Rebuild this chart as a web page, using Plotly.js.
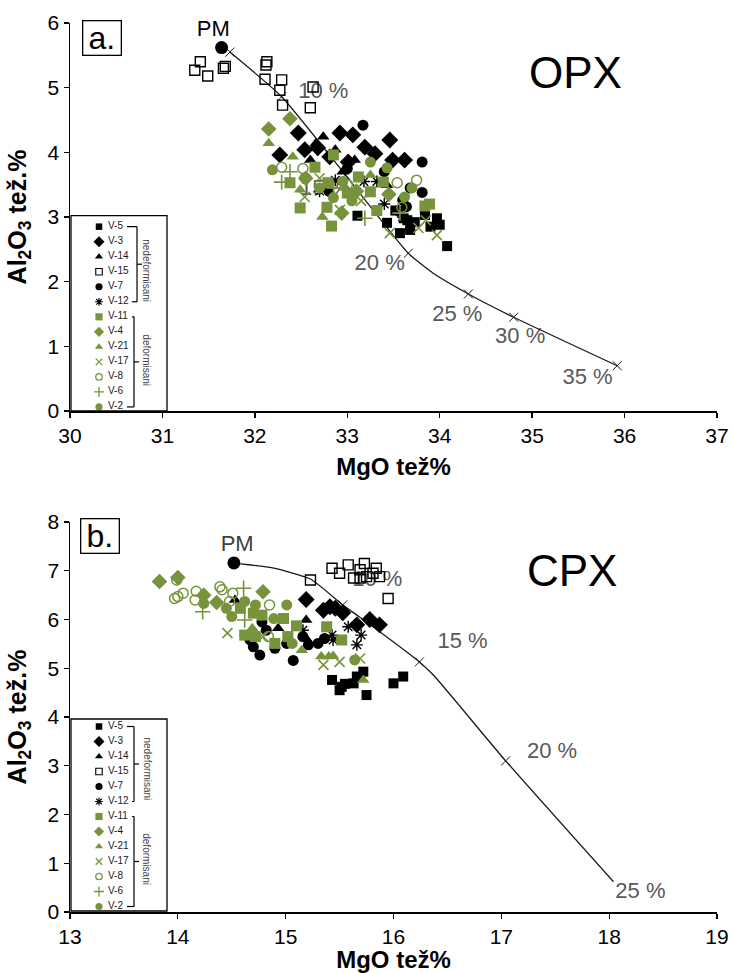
<!DOCTYPE html>
<html><head><meta charset="utf-8">
<script src="https://cdn.plot.ly/plotly-3.0.1.min.js"></script>
<style>html,body{margin:0;padding:0;background:#fff}</style>
</head><body><div id="chart" style="width:733px;height:973px"></div>
<script>
// ---------------- DATA ----------------
const seriesNames = ['V-5','V-3','V-14','V-15','V-7','V-12','V-11','V-4','V-21','V-17','V-8','V-6','V-2'];
const groupLabels = ['nedeformisani','deformisani'];

// OPX panel (a.)
const opx_V5_x  = [33.97,34.00,34.08,33.61,33.68,33.57,33.43,33.11,33.73,33.52,33.84,33.65,33.90];
const opx_V5_y  = [2.98,2.88,2.55,2.98,2.80,2.75,2.91,3.02,2.92,3.10,3.03,2.95,2.85];
const opx_V3_x  = [32.47,32.92,33.06,33.19,33.46,32.27,33.49,33.62,33.01,32.68,32.54,32.81,33.30];
const opx_V3_y  = [4.30,4.30,4.27,4.08,4.19,3.96,3.88,3.88,3.85,4.07,4.04,3.93,3.98];
const opx_V14_x = [32.74,32.66,33.08,33.43,32.60,33.57,32.87,33.68,32.95];
const opx_V14_y = [4.24,4.14,3.88,3.49,3.88,3.08,4.04,2.83,3.70];
const opx_V15_x = [31.41,31.35,31.49,31.66,31.68,32.13,32.12,32.11,32.29,32.27,32.63,32.30,32.60];
const opx_V15_y = [5.40,5.27,5.18,5.30,5.33,5.40,5.35,5.13,5.12,4.96,5.01,4.73,4.69];
const opx_V7_x  = [33.17,33.81,33.68,33.81,33.60,32.55,33.40,33.00,33.55,32.80,33.64];
const opx_V7_y  = [4.42,3.85,3.45,3.38,3.26,3.60,3.70,3.75,3.10,3.40,3.16];
const opx_V12_x = [33.18,33.32,32.87,32.70,33.05,33.60,33.40];
const opx_V12_y = [3.55,3.55,3.57,3.40,3.30,3.00,3.20];
const opx_V11_x = [32.85,32.79,32.49,32.83,32.78,33.32,33.84,33.89,32.38,32.65,33.12,33.25,33.39,33.00];
const opx_V11_y = [3.96,3.53,3.14,2.86,3.15,3.10,3.17,3.20,3.53,3.77,3.62,3.39,3.54,3.37];
const opx_V4_x  = [32.38,32.15,32.94,32.55,33.10,33.45];
const opx_V4_y  = [4.52,4.36,3.06,3.60,3.40,3.35];
const opx_V21_x = [32.15,32.73,32.41,32.98,33.25,32.49];
const opx_V21_y = [4.14,3.00,3.93,3.45,3.65,3.42];
const opx_V17_x = [33.97,33.77,33.46,32.54,32.92,33.15,33.85,32.70];
const opx_V17_y = [2.72,2.83,2.75,3.31,3.11,3.25,2.95,3.60];
const opx_V8_x  = [32.29,33.54,33.75,33.59,32.52,33.00];
const opx_V8_y  = [3.77,3.53,3.57,3.15,3.75,3.50];
const opx_V6_x  = [32.29,33.19,32.38,33.57,32.85];
const opx_V6_y  = [3.54,2.98,3.70,3.06,3.45];
const opx_V2_x  = [32.19,32.54,33.25,33.43,33.62,32.95,32.70,33.05,32.85,33.70];
const opx_V2_y  = [3.73,3.60,3.85,3.76,3.31,3.55,3.45,3.25,3.30,3.45];

const opx_curve_x = [31.73,32.29,32.98,33.66,33.93,34.31,34.80,35.92];
const opx_curve_y = [5.55,4.86,3.65,2.44,2.13,1.81,1.45,0.70];
const opx_mark_x  = [31.73,32.29,32.98,33.66,34.31,34.80,35.92];
const opx_mark_y  = [5.55,4.86,3.65,2.44,1.81,1.45,0.70];
const opx_pct_text = ['10 %','15 %','20 %','25 %','30 %','35 %'];
const opx_pct_x    = [32.74,32.76,33.35,34.19,34.87,35.60];
const opx_pct_y    = [4.92,3.42,2.26,1.48,1.13,0.51];
const opx_pm_x = [31.64], opx_pm_y = [5.62];
const opx_pmlabel_x = [31.55], opx_pmlabel_y = [5.89];

// CPX panel (b.)
const cpx_V5_x  = [15.43,15.50,15.55,15.63,15.66,15.72,15.75,16.00,16.09,15.52];
const cpx_V5_y  = [4.76,4.55,4.68,4.69,4.83,4.93,4.45,4.69,4.83,4.62];
const cpx_V3_x  = [15.19,15.35,15.41,15.46,15.53,15.78,15.87,15.66];
const cpx_V3_y  = [6.41,6.19,6.26,6.23,6.14,6.00,5.89,5.89];
const cpx_V14_x = [14.53,15.19,14.93,15.19];
const cpx_V14_y = [6.40,5.99,5.82,5.61];
const cpx_V15_x = [15.43,15.50,15.58,15.69,15.73,15.84,15.81,15.63,15.75,15.95,15.23,15.69,15.87];
const cpx_V15_y = [7.05,6.95,7.12,7.02,7.15,7.05,6.95,6.85,6.88,6.43,6.81,6.85,6.88];
const cpx_V7_x  = [14.70,14.76,14.90,15.07,15.01,15.21,15.30,15.36,14.78,14.82,15.16,14.67];
const cpx_V7_y  = [5.44,5.27,5.41,5.16,5.51,5.48,5.51,5.61,5.95,5.78,5.65,5.58];
const cpx_V12_x = [15.58,15.70,15.66,15.43,15.44,15.16];
const cpx_V12_y = [5.85,5.68,5.48,5.68,5.58,5.78];
const cpx_V11_x = [14.62,14.72,14.70,14.78,14.98,15.10,14.90,15.38,15.52,15.02,14.58];
const cpx_V11_y = [5.68,5.65,6.13,6.09,6.02,5.87,5.51,5.85,5.58,5.65,6.23];
const cpx_V4_x  = [13.83,14.00,14.79,14.36,14.24];
const cpx_V4_y  = [6.78,6.86,6.57,6.35,6.50];
const cpx_V21_x = [15.33,15.40,15.44,14.69,15.72,15.15];
const cpx_V21_y = [5.24,5.24,5.25,5.82,4.76,5.37];
const cpx_V17_x = [14.46,15.35,15.50,15.69,14.79];
const cpx_V17_y = [5.72,5.07,5.13,5.20,5.65];
const cpx_V8_x  = [13.97,14.00,14.05,14.17,14.16,14.39,14.41,14.51,14.85,14.84,14.48,13.99];
const cpx_V8_y  = [6.43,6.47,6.54,6.58,6.40,6.67,6.61,6.54,6.30,5.65,6.37,6.81];
const cpx_V6_x  = [14.23,14.61,14.62];
const cpx_V6_y  = [6.16,6.64,5.99];
const cpx_V2_x  = [14.24,14.45,14.50,14.62,14.72,14.89,15.01,15.06,15.64];
const cpx_V2_y  = [6.33,6.23,6.06,6.37,6.30,6.02,6.30,5.51,5.17];

const cpx_curve_x = [14.58,14.88,15.23,15.53,15.81,16.24,16.37,17.04,18.04];
const cpx_curve_y = [7.14,7.06,6.83,6.30,5.85,5.13,4.86,3.10,0.62];
const cpx_mark_x  = [15.53,16.24,17.04];
const cpx_mark_y  = [6.30,5.13,3.10];
const cpx_pct_text = ['10 %','15 %','20 %','25 %'];
const cpx_pct_x    = [15.85,16.64,17.47,18.29];
const cpx_pct_y    = [6.79,5.52,3.28,0.39];
const cpx_pm_x = [14.52], cpx_pm_y = [7.16];
const cpx_pmlabel_x = [14.55], cpx_pmlabel_y = [7.51];

const opxTicks = [30,31,32,33,34,35,36,37];
const cpxTicks = [13,14,15,16,17,18,19];

// ---------------- STYLE ----------------
const BLACK = '#000000', GREEN = '#77933C', GRAY = '#595959';
const SANS = 'Liberation Sans, Arial, sans-serif';
const styles = {
  'V-5':{symbol:'square',color:BLACK,size:10},
  'V-3':{symbol:'diamond',color:BLACK,size:13},
  'V-14':{symbol:'triangle-up',color:BLACK,size:11},
  'V-15':{symbol:'square-open',color:BLACK,size:10,lw:1.4},
  'V-7':{symbol:'circle',color:BLACK,size:11},
  'V-12':{symbol:'asterisk-open',color:BLACK,size:10,lw:1.4},
  'V-11':{symbol:'square',color:GREEN,size:11},
  'V-4':{symbol:'diamond',color:GREEN,size:12},
  'V-21':{symbol:'triangle-up',color:GREEN,size:11},
  'V-17':{symbol:'x-thin-open',color:GREEN,size:10,lw:1.6},
  'V-8':{symbol:'circle-open',color:GREEN,size:10,lw:1.5},
  'V-6':{symbol:'cross-thin-open',color:GREEN,size:11,lw:1.6},
  'V-2':{symbol:'circle',color:GREEN,size:11}
};
const opxData = {'V-5':[opx_V5_x,opx_V5_y],'V-3':[opx_V3_x,opx_V3_y],'V-14':[opx_V14_x,opx_V14_y],'V-15':[opx_V15_x,opx_V15_y],'V-7':[opx_V7_x,opx_V7_y],'V-12':[opx_V12_x,opx_V12_y],'V-11':[opx_V11_x,opx_V11_y],'V-4':[opx_V4_x,opx_V4_y],'V-21':[opx_V21_x,opx_V21_y],'V-17':[opx_V17_x,opx_V17_y],'V-8':[opx_V8_x,opx_V8_y],'V-6':[opx_V6_x,opx_V6_y],'V-2':[opx_V2_x,opx_V2_y]};
const cpxData = {'V-5':[cpx_V5_x,cpx_V5_y],'V-3':[cpx_V3_x,cpx_V3_y],'V-14':[cpx_V14_x,cpx_V14_y],'V-15':[cpx_V15_x,cpx_V15_y],'V-7':[cpx_V7_x,cpx_V7_y],'V-12':[cpx_V12_x,cpx_V12_y],'V-11':[cpx_V11_x,cpx_V11_y],'V-4':[cpx_V4_x,cpx_V4_y],'V-21':[cpx_V21_x,cpx_V21_y],'V-17':[cpx_V17_x,cpx_V17_y],'V-8':[cpx_V8_x,cpx_V8_y],'V-6':[cpx_V6_x,cpx_V6_y],'V-2':[cpx_V2_x,cpx_V2_y]};

function markerOf(name, scale){
  const s = styles[name];
  const open = s.symbol.indexOf('open')>=0;
  return {symbol:s.symbol, color:s.color, size:s.size*scale,
          line:{color:s.color, width: open ? (s.lw||1.4)*Math.max(scale,0.8) : 0}};
}

const traces = [];
function panel(xa, ya, pctText, pctX, pctY, cX, cY, mX, mY, pmX, pmY, pmLX, pmLY, data, pmColor){
  traces.push({type:'scatter', mode:'text', x:pctX, y:pctY, text:pctText, xaxis:xa, yaxis:ya,
    textfont:{family:SANS, size:22, color:GRAY}, textposition:'middle center', hoverinfo:'skip', cliponaxis:false});
  traces.push({type:'scatter', mode:'lines', x:cX, y:cY, xaxis:xa, yaxis:ya,
    line:{color:'#1a1a1a', width:1.3, shape:'spline', smoothing:0.5}, hoverinfo:'skip'});
  traces.push({type:'scatter', mode:'markers', x:mX, y:mY, xaxis:xa, yaxis:ya,
    marker:{symbol:'x-thin-open', size:9, color:'#1a1a1a', line:{color:'#1a1a1a', width:1}}, hoverinfo:'skip'});
  seriesNames.forEach(n=>{
    traces.push({type:'scatter', mode:'markers', name:n, x:data[n][0], y:data[n][1], xaxis:xa, yaxis:ya,
      marker:markerOf(n,1), cliponaxis:false});
  });
  traces.push({type:'scatter', mode:'markers', x:pmX, y:pmY, xaxis:xa, yaxis:ya,
    marker:{symbol:'circle', size:13, color:'#000'}, cliponaxis:false, hoverinfo:'skip'});
  traces.push({type:'scatter', mode:'text', x:pmLX, y:pmLY, text:['PM'], xaxis:xa, yaxis:ya,
    textposition:'middle center', textfont:{family:SANS, size:22, color:pmColor}, cliponaxis:false, hoverinfo:'skip'});
}
panel('x','y',opx_pct_text,opx_pct_x,opx_pct_y,opx_curve_x,opx_curve_y,opx_mark_x,opx_mark_y,opx_pm_x,opx_pm_y,opx_pmlabel_x,opx_pmlabel_y,opxData,'#000');
panel('x2','y2',cpx_pct_text,cpx_pct_x,cpx_pct_y,cpx_curve_x,cpx_curve_y,cpx_mark_x,cpx_mark_y,cpx_pm_x,cpx_pm_y,cpx_pmlabel_x,cpx_pmlabel_y,cpxData,'#404040');

// legend panels drawn on their own small axes (x3/y3 top, x4/y4 bottom), box units = px
const rows = seriesNames.map((_,i)=>i);
[['x3','y3'],['x4','y4']].forEach(([xa,ya])=>{
  seriesNames.forEach((n,i)=>{
    traces.push({type:'scatter', mode:'markers', x:[28], y:[i], xaxis:xa, yaxis:ya,
      marker:markerOf(n,0.65), cliponaxis:false, hoverinfo:'skip'});
  });
  traces.push({type:'scatter', mode:'text', x:rows.map(()=>37), y:rows, text:seriesNames, xaxis:xa, yaxis:ya,
    textposition:'middle right', textfont:{family:SANS, size:10, color:'#1a1a1a'}, cliponaxis:false, hoverinfo:'skip'});
});

// ---------------- LAYOUT ----------------
const L=70, R=733-717, T=23, B=973-912, PH=912-23;
const dom = (pyTop, pyBot)=>[(912-pyBot)/PH, (912-pyTop)/PH];
const tickFont = {family:SANS, size:21, color:'#000'};
const xTitleFont = {family:SANS, size:24, color:'#000', weight:'bold'};
const yTitleFont = {family:SANS, size:25, color:'#000', weight:'bold'};
function xAx(range, ticks, anchor){
  return {domain:[0,1], range:range, tickvals:ticks, anchor:anchor, showline:true, linecolor:'#000', linewidth:1.5,
    ticks:'outside', ticklen:5, tickwidth:1.3, tickcolor:'#000', showgrid:false, zeroline:false, automargin:false,
    tickfont:tickFont, title:{text:'MgO tež%', font:xTitleFont, standoff:12}};
}
function yAx(range, anchor, domain){
  return {domain:domain, range:range, dtick:1, anchor:anchor, showline:true, linecolor:'#000', linewidth:1.5,
    ticks:'outside', ticklen:5, tickwidth:1.3, tickcolor:'#000', showgrid:false, zeroline:false, automargin:false,
    tickfont:tickFont, title:{text:'Al<sub>2</sub>O<sub>3</sub> tež.%', font:yTitleFont, standoff:14}};
}
const legXdom = [(71-L)/647, (167-L)/647];
const hid = {visible:false, showgrid:false, zeroline:false, fixedrange:true};

function bracketShapes(xr, yr, x1, r0, r1, startTop, startBot){
  const ln = {color:'#000', width:1.2};
  const mid = (r0+r1)/2;
  return [
    {type:'line', xref:xr, yref:yr, x0:startTop, x1:x1, y0:r0, y1:r0, line:ln},
    {type:'line', xref:xr, yref:yr, x0:x1, x1:x1, y0:r0, y1:r1, line:ln},
    {type:'line', xref:xr, yref:yr, x0:startBot, x1:x1, y0:r1, y1:r1, line:ln},
    {type:'line', xref:xr, yref:yr, x0:x1, x1:x1+5, y0:mid, y1:mid, line:ln}
  ];
}
const shapes = [
  {type:'rect', xref:'x3 domain', yref:'y3 domain', x0:0, x1:1, y0:0, y1:1, line:{color:'#000', width:1.3}},
  {type:'rect', xref:'x4 domain', yref:'y4 domain', x0:0, x1:1, y0:0, y1:1, line:{color:'#000', width:1.3}},
  ...bracketShapes('x3','y3',66,0,5,56,61),
  ...bracketShapes('x3','y3',63,6,12,61,56),
  ...bracketShapes('x4','y4',63,0,5,56,61),
  ...bracketShapes('x4','y4',63,6,12,61,56)
];
const grpFont = {family:SANS, size:10, color:'#404040'};
const px = v=>(v-L)/647, py = v=>(912-v)/PH;
const C = {showarrow:false, xanchor:'center', yanchor:'middle'};
const annotations = [
  Object.assign({xref:'x3', yref:'y3', x:76, y:2.9, text:groupLabels[0], textangle:90, font:grpFont}, C),
  Object.assign({xref:'x3', yref:'y3', x:76, y:8.9, text:groupLabels[1], textangle:90, font:grpFont}, C),
  Object.assign({xref:'x4', yref:'y4', x:76, y:2.8, text:groupLabels[0], textangle:90, font:grpFont}, C),
  Object.assign({xref:'x4', yref:'y4', x:76, y:8.85, text:groupLabels[1], textangle:90, font:grpFont}, C),
  Object.assign({xref:'paper', yref:'paper', x:px(102), y:py(38), text:'a.', width:37, height:33,
   bordercolor:'#000', borderwidth:1.3, borderpad:0, font:{family:SANS, size:32, color:'#000'}}, C),
  Object.assign({xref:'paper', yref:'paper', x:px(100), y:py(536), text:'b.', width:37, height:33,
   bordercolor:'#000', borderwidth:1.3, borderpad:0, font:{family:SANS, size:32, color:'#000'}}, C),
  Object.assign({xref:'paper', yref:'paper', x:px(575), y:py(72), text:'OPX', font:{family:SANS, size:44, color:'#000'}}, C),
  Object.assign({xref:'paper', yref:'paper', x:px(572), y:py(570), text:'CPX', font:{family:SANS, size:44, color:'#000'}}, C)
];

const layout = {
  width:733, height:973, margin:{l:L, r:R, t:T, b:B}, showlegend:false,
  paper_bgcolor:'#fff', plot_bgcolor:'rgba(0,0,0,0)',
  xaxis: xAx([30,37], opxTicks, 'y'),
  yaxis: yAx([0,6], 'x', dom(23,411)),
  xaxis2: xAx([13,19], cpxTicks, 'y2'),
  yaxis2: yAx([0,8], 'x2', dom(522,912)),
  xaxis3: Object.assign({domain:legXdom, range:[0,96], anchor:'y3'}, hid),
  yaxis3: Object.assign({domain:dom(215.7,411), range:[12.27,-0.73], anchor:'x3'}, hid),
  xaxis4: Object.assign({domain:legXdom, range:[0,96], anchor:'y4'}, hid),
  yaxis4: Object.assign({domain:dom(719,911), range:[12.3,-0.5], anchor:'x4'}, hid),
  shapes:shapes, annotations:annotations
};
Plotly.newPlot('chart', traces, layout, {displayModeBar:false, staticPlot:true});
</script></body></html>
